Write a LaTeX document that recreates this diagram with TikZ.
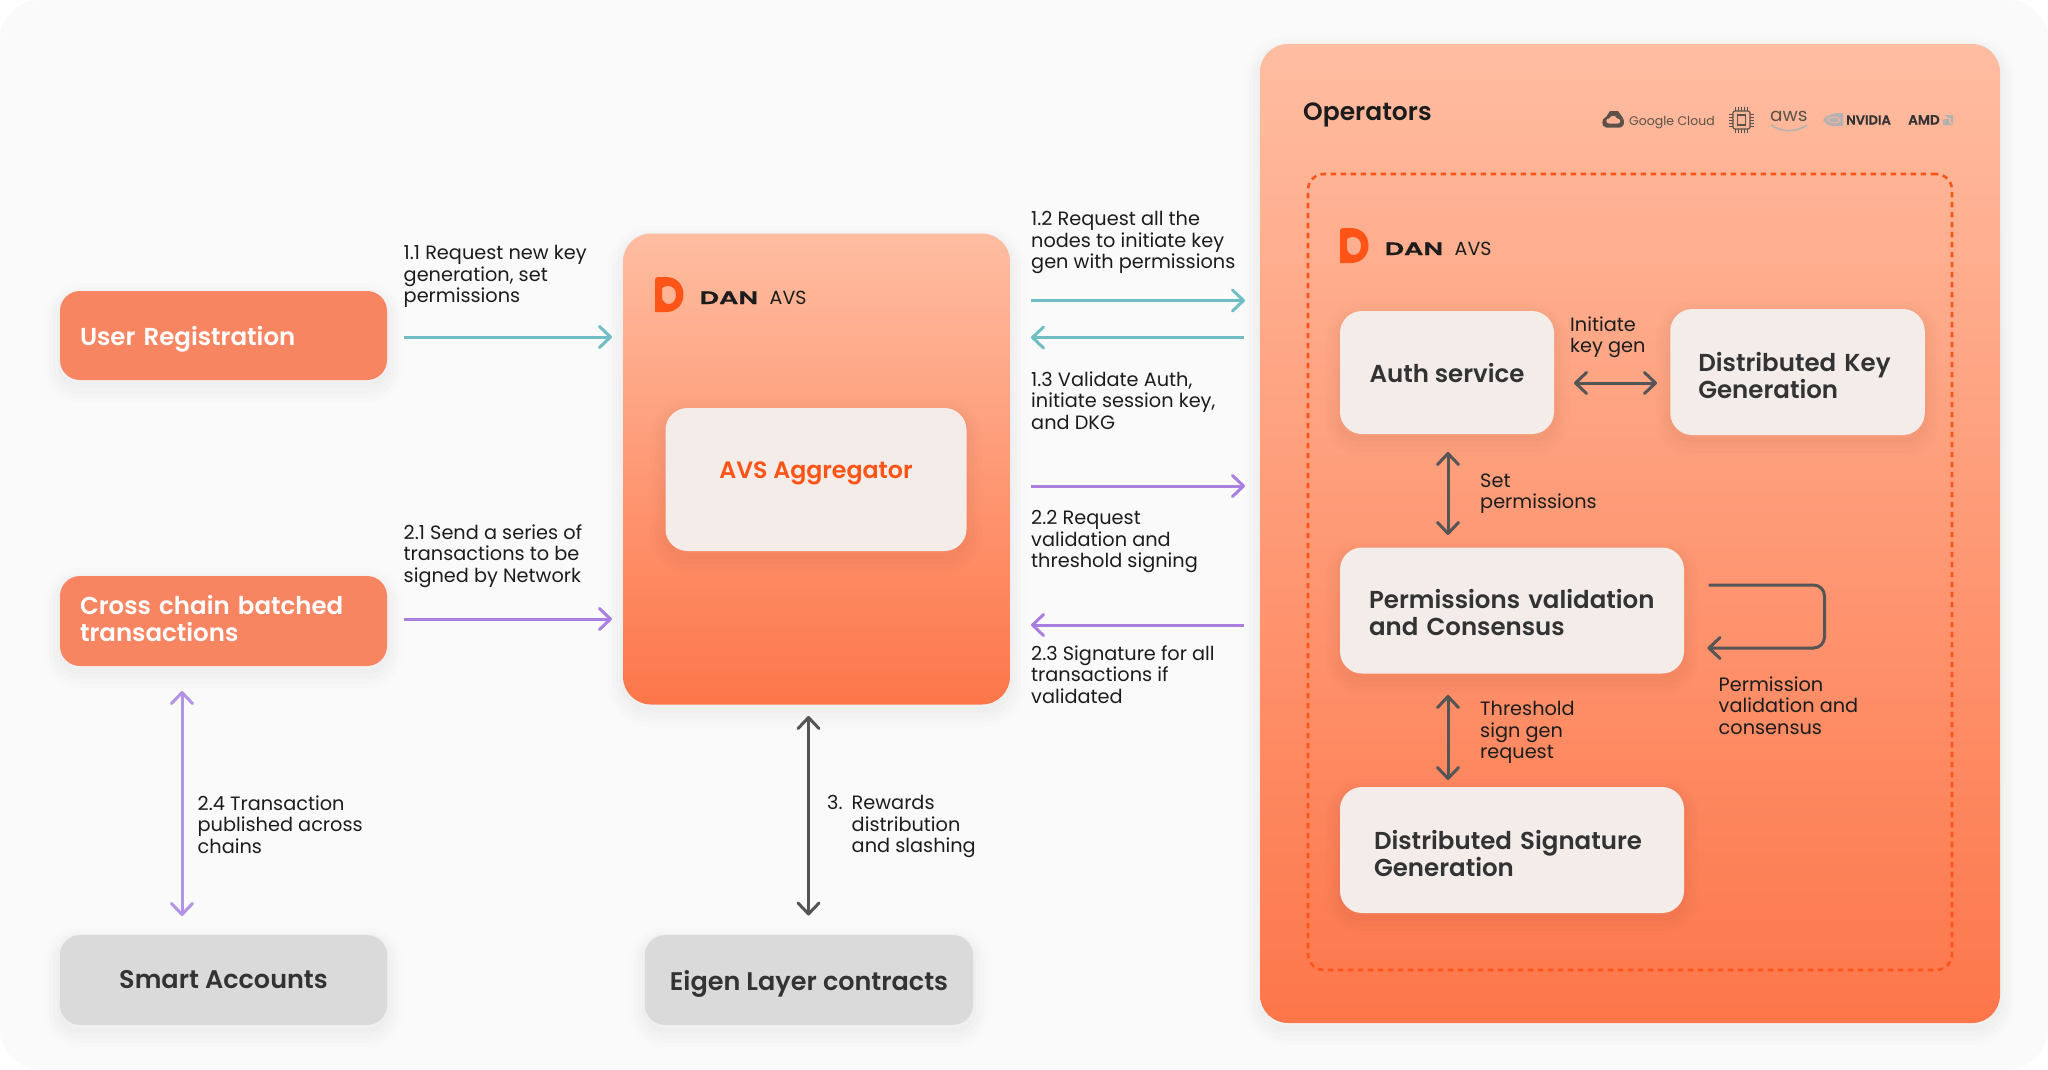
\documentclass[tikz,border=0pt]{standalone}
\usepackage{fontspec}
\setmainfont{Poppins}[BoldFont={Poppins SemiBold}]
\usetikzlibrary{arrows.meta,shapes.geometric}
\definecolor{bgc}{HTML}{FAFAFA}
\definecolor{ptop}{HTML}{FFBDA1}
\definecolor{pbot}{HTML}{FD764A}
\definecolor{orng}{HTML}{FF5417}
\definecolor{card}{HTML}{F4ECE9}
\definecolor{salmon}{HTML}{F78562}
\definecolor{greybox}{HTML}{DADADA}
\definecolor{ink}{HTML}{1C1C1C}
\definecolor{hd}{HTML}{333333}
\definecolor{teal}{HTML}{70BEC3}
\definecolor{purp}{HTML}{A97FE0}
\definecolor{purpl}{HTML}{B393E5}
\definecolor{gra}{HTML}{555555}
\definecolor{logog}{HTML}{5C5148}
\newcommand{\headfont}{\fontsize{24.5}{27}\selectfont\bfseries}
\newcommand{\lblfont}{\fontsize{19.3}{21.5}\selectfont}
\tikzset{
 x=1pt,y=-1pt,
 softshadow/.style={
  preaction={draw=black,draw opacity=.008,line width=30pt,transform canvas={yshift=-7pt}},
  preaction={draw=black,draw opacity=.010,line width=22pt,transform canvas={yshift=-7pt}},
  preaction={draw=black,draw opacity=.012,line width=14pt,transform canvas={yshift=-6pt}},
  preaction={draw=black,draw opacity=.012,line width=6pt,transform canvas={yshift=-5pt}}},
 boxbase/.style={rounded corners=#1,inner sep=0pt,softshadow},
 panel/.style={boxbase=28pt,top color=ptop,bottom color=pbot},
 solid card/.style={boxbase=22pt,fill=card},
 head/.style={font=\headfont,text=hd,align=left},
 whitehead/.style={font=\headfont,text=white,align=left},
 lbl/.style={font=\lblfont,text=ink,align=left,inner sep=0pt,anchor=north west},
 tealarrow/.style={draw=teal,line width=3pt,-{Straight Barb[length=11pt,width=21pt,line width=3pt,round]}},
 purparrow/.style={draw=purp,line width=3pt,-{Straight Barb[length=11pt,width=21pt,line width=3pt,round]}},
 purpboth/.style={draw=purpl,line width=3pt,{Straight Barb[length=11pt,width=21pt,line width=3pt,round]}-{Straight Barb[length=11pt,width=21pt,line width=3pt,round]}},
 grayboth/.style={draw=gra,line width=3pt,{Straight Barb[length=11pt,width=21pt,line width=3pt,round]}-{Straight Barb[length=11pt,width=21pt,line width=3pt,round]}},
 grayarrow/.style={draw=gra,line width=3pt,-{Straight Barb[length=11pt,width=21pt,line width=3pt,round]}},
 danlogo/.pic={
  \fill[orng,even odd rule] (0,3) .. controls (0,1) and (1,0) .. (3,0) -- (11,0)
    .. controls (22,0) and (28.5,8) .. (28.5,17.5) .. controls (28.5,27) and (22,35) .. (11,35) -- (0,35) -- cycle
    (7,11) .. controls (9,9.5) and (11,9) .. (13,9) .. controls (18,9) and (21,12.5) .. (21,17.5) .. controls (21,23) and (18,27) .. (14,27)
    .. controls (10,27) and (7,24) .. (7,20) -- cycle;
  \node[inner sep=0pt,anchor=base west,text=ink,font=\fontsize{18}{18}\selectfont\bfseries] (-dan) at (44.5,27) {\addfontfeature{FakeStretch=1.5,FakeBold=0.8}DAN};
  \node[inner sep=0pt,anchor=base west,text=ink,font=\fontsize{19}{19}\selectfont] (-avs) at (114.5,27) {AVS};
 }
}
\begin{document}
\begin{tikzpicture}
\useasboundingbox (0,0) rectangle (2048,1069);
\fill[white] (0,0) rectangle (2048,1069);
\fill[bgc,rounded corners=40pt] (0,0) rectangle (2048,1069);

% panels
\node[panel,minimum width=387pt,minimum height=471pt] (mid) at (816.5,469) {};
\node[panel,minimum width=740pt,minimum height=979pt] (ops) at (1630,533.5) {};
\node[draw=orng,line width=2.6pt,dash pattern=on 5.5pt off 4.5pt,rounded corners=16pt,minimum width=644pt,minimum height=796pt,inner sep=0pt] (dash) at (1630,572) {};

% left boxes
\node[boxbase=20pt,fill=salmon,minimum width=327pt,minimum height=89pt,text width=287pt,inner xsep=20pt,whitehead,text depth=0pt] (user) at (223.5,335.5) {User Registration};
\node[boxbase=20pt,fill=salmon,minimum width=327pt,minimum height=90pt,text width=287pt,inner xsep=20pt,whitehead,text depth=31.4pt] (cross) at (223.5,621) {Cross chain batched\\transactions};
\node[boxbase=20pt,fill=greybox,minimum width=327pt,minimum height=90pt,head,align=center,font=\fontsize{25.5}{27}\selectfont\bfseries] (smart) at (223.5,980) {Smart Accounts};
\node[boxbase=20pt,fill=greybox,minimum width=328pt,minimum height=90pt,head,align=center,text depth=0pt,font=\fontsize{25.5}{27}\selectfont\bfseries] (eigen) at (809,980) {Eigen Layer contracts};

% AVS aggregator
\node[solid card,minimum width=301pt,minimum height=143pt,font=\fontsize{23.7}{27}\selectfont\bfseries,text=orng,text depth=18pt] (agg) at (816,479.5) {AVS Aggregator};

% inner cards
\node[solid card,minimum width=214pt,minimum height=123pt,head,align=center] (auth) at (1447,372.5) {Auth service};
\node[solid card,minimum width=254.5pt,minimum height=126pt,head,text width=198.5pt,inner xsep=28pt,text depth=19.5pt] (dkg) at (1797.5,372) {Distributed Key\\Generation};
\node[solid card,minimum width=344pt,minimum height=126pt,head,text width=286pt,inner xsep=29pt,text depth=24pt] (perm) at (1512,610.5) {Permissions validation\\and Consensus};
\node[solid card,minimum width=344pt,minimum height=126pt,head,text width=276pt,inner xsep=34pt,text depth=19.5pt] (dsg) at (1512,850) {Distributed Signature\\Generation};

% headings and logos
\node[inner sep=0pt,anchor=base west,text=ink,font=\fontsize{25}{27}\selectfont\bfseries] (opst) at (1303,120) {Operators};
\pic (la) at (655,277) {danlogo};
\pic (lb) at (1340,228) {danlogo};

% vendor logos
\fill[logog] (1606,127.5) .. controls (1601,127) and (1601,118) .. (1606,117) -- (1610,111) -- (1618,111) -- (1623,118) .. controls (1625,122) and (1624,127) .. (1620,127.5) -- cycle;
\fill[ptop!85!pbot] (1609,123.5) .. controls (1605,123) and (1606,118.5) .. (1609,118.5) .. controls (1611,115) and (1616,115) .. (1617,118.5) .. controls (1621,118.5) and (1621,123) .. (1618,123.5) -- cycle;
\node[inner sep=0pt,anchor=base west,text=logog,font=\fontsize{12.5}{14.5}\selectfont] (gc) at (1629,125) {Google Cloud};
\node[draw=logog,line width=1.1pt,rounded corners=2pt,minimum width=17pt,minimum height=18pt,inner sep=0pt] (chip) at (1741.5,120) {};
\node[draw=logog,line width=1.1pt,minimum width=8pt,minimum height=10pt,inner sep=0pt] (chipi) at (1741.5,120) {};
\foreach \q in {-6,-3,0,3,6}{
 \draw[logog,line width=.9pt] (1729,120+\q) -- (1733,120+\q) (1750,120+\q) -- (1754,120+\q);
 \draw[logog,line width=.9pt] (1741.5+\q,107) -- (1741.5+\q,111) (1741.5+\q,129) -- (1741.5+\q,133);
}
\node[inner sep=0pt,anchor=base west,text=logog,font=\fontsize{18.5}{19}\selectfont] (aws) at (1770,121) {aws};
\draw[draw=black!30,line width=1.6pt] (1771,125) .. controls (1782,133) and (1797,132) .. (1807,125);
\fill[black!30] (1823,120) .. controls (1828,114) and (1834,113) .. (1843,113) -- (1843,126) -- (1832,126) .. controls (1829,126) and (1826,124) .. cycle;
\draw[ptop!85!pbot,line width=.8pt] (1827,120) .. controls (1831,116) and (1838,116) .. (1840,120) .. controls (1838,124) and (1831,124) .. cycle;
\node[inner sep=0pt,anchor=base west,text=hd,font=\fontsize{13}{13}\selectfont\bfseries] (nv) at (1846,124.5) {\addfontfeature{FakeBold=0.5}NVIDIA};
\node[inner sep=0pt,anchor=base west,text=hd,font=\fontsize{13.5}{13.5}\selectfont\bfseries] (amd) at (1908,124.5) {\addfontfeature{FakeBold=0.5}AMD};
\fill[black!30] (1945,115) -- (1953,115) -- (1953,124) -- (1950.5,121) -- (1950.5,118) -- (1948,118) -- cycle (1949,119) -- (1949,122) -- (1952,125) -- (1943,125) -- (1943,120) -- (1945,119) -- cycle;

% connector anchors
\coordinate (c11a) at (403.5,337); \coordinate (c11b) at (612,337);
\coordinate (c21a) at (403.5,619); \coordinate (c21b) at (612,619);
\coordinate (c12a) at (1031,300.5); \coordinate (c12b) at (1245,300.5);
\coordinate (c13a) at (1244,337.5); \coordinate (c13b) at (1031,337.5);
\coordinate (c22a) at (1031,486); \coordinate (c22b) at (1245,486);
\coordinate (c23a) at (1244,625); \coordinate (c23b) at (1031,625);
\coordinate (c24a) at (182,691); \coordinate (c24b) at (182,916);
\coordinate (c3a) at (808.5,716); \coordinate (c3b) at (808.5,915.5);
\coordinate (cia) at (1574,383); \coordinate (cib) at (1657,383);
\coordinate (csa) at (1448,452); \coordinate (csb) at (1448,535);
\coordinate (cta) at (1448,695); \coordinate (ctb) at (1448,780);
\coordinate (cla) at (1708.5,585); \coordinate (clb) at (1707.5,648);

\draw[tealarrow] (c11a) -- (c11b);
\draw[purparrow] (c21a) -- (c21b);
\draw[tealarrow] (c12a) -- (c12b);
\draw[tealarrow] (c13a) -- (c13b);
\draw[purparrow] (c22a) -- (c22b);
\draw[purparrow] (c23a) -- (c23b);
\draw[purpboth] (c24a) -- (c24b);
\draw[grayboth] (c3a) -- (c3b);
\draw[grayboth] (cia) -- (cib);
\draw[grayboth] (csa) -- (csb);
\draw[grayboth] (cta) -- (ctb);
\draw[grayarrow,rounded corners=11pt] (cla) -- (1824.5,585) -- (1824.5,648) -- (clb);

% labels
\node[lbl] (t11) at (403.5,245.5) {1.1 Request new key\\generation, set\\permissions};
\node[lbl] (t21) at (403.5,524.5) {2.1 Send a series of\\transactions to be\\signed by Network};
\node[lbl] (t12) at (1031,211.5) {1.2 Request all the\\nodes to initiate key\\gen with permissions};
\node[lbl] (t13) at (1031,371.5) {1.3 Validate Auth,\\initiate session key,\\and DKG};
\node[lbl] (t22) at (1031,510.5) {2.2 Request\\validation and\\threshold signing};
\node[lbl] (t23) at (1031,645.5) {2.3 Signature for all\\transactions if\\validated};
\node[lbl] (t24) at (197.5,795.5) {2.4 Transaction\\published across\\chains};
\node[lbl] (t3n) at (827,795.5) {3.};
\node[lbl] (t3) at (851.5,795.5) {Rewards\\distribution\\and slashing};
\node[lbl] (ti) at (1570,316.5) {Initiate\\key gen};
\node[lbl] (ts) at (1480,473.5) {Set\\permissions};
\node[lbl] (tt) at (1480,701.5) {Threshold\\sign gen\\request};
\node[lbl] (tp) at (1718.5,676.5) {Permission\\validation and\\consensus};
\end{tikzpicture}
\end{document}
